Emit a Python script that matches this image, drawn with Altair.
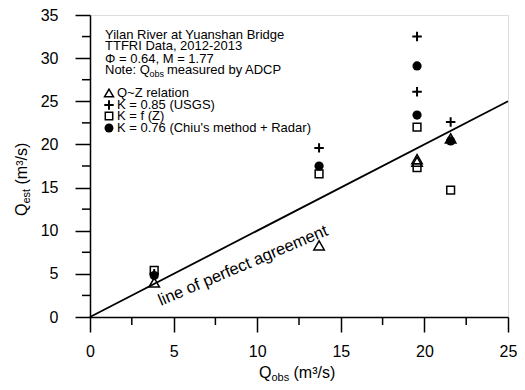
import altair as alt
import pandas as pd

# ---- data ----
q_obs = [3.84, 13.7, 19.56, 19.56, 21.57]
q_qz = [4.0, 8.3, 18.3, 18.0, 20.7]          # Q~Z relation (triangles)
q_usgs = [5.0, 19.6, 32.5, 26.1, 22.6]       # K = 0.85 (USGS) (crosses)
q_fz = [5.4, 16.6, 22.0, 17.3, 14.7]         # K = f(Z) (squares)
q_chiu = [4.8, 17.5, 29.1, 23.4, 20.4]       # K = 0.76 (Chiu + Radar) (dots)

line_x = [0, 25]
line_y = [0, 25]

major_x = [0, 5, 10, 15, 20, 25]
minor_x = [2.5, 7.5, 12.5, 17.5, 22.5]
major_y = [0, 5, 10, 15, 20, 25, 30, 35]
minor_y = [2.5, 7.5, 12.5, 17.5, 22.5, 27.5, 32.5]

header_lines = ["Yilan River at Yuanshan Bridge", "TTFRI Data, 2012-2013", "Φ = 0.64, M = 1.77"]
legend_labels = ["Q~Z relation", "K = 0.85 (USGS)", "K = f (Z)", "K = 0.76 (Chiu's method + Radar)"]
line_label = "line of perfect agreement"

FONT = "Liberation Sans"
W, H = 418, 302
CROSS = "M-1,0H1M0,-1V1"

common_axis = dict(
    grid=False, title=None, domainColor="black", domainWidth=1.5,
    tickColor="black", tickWidth=1.5, tickSize=15,
    labelFont=FONT, labelFontSize=16, labelColor="black",
    labelFlush=False, labelOverlap=False,
)
xaxis = alt.Axis(values=major_x, labelPadding=11, **common_axis)
yaxis = alt.Axis(values=major_y, labelPadding=17, **common_axis)

X = lambda f: alt.X(f"{f}:Q", scale=alt.Scale(domain=[0, 25], nice=False, zero=True), axis=xaxis)
Y = lambda f: alt.Y(f"{f}:Q", scale=alt.Scale(domain=[0, 35], nice=False, zero=True), axis=yaxis)

# minor ticks
mx = alt.Chart(pd.DataFrame({"v": minor_x})).mark_rule(color="black", strokeWidth=1.5).encode(
    x=X("v"), y=alt.value(H), y2=alt.value(H + 8))
my = alt.Chart(pd.DataFrame({"v": minor_y})).mark_rule(color="black", strokeWidth=1.5).encode(
    y=Y("v"), x=alt.value(-8), x2=alt.value(0))

line_df = pd.DataFrame({"x": line_x, "y": line_y})
line = alt.Chart(line_df).mark_line(color="black", strokeWidth=1.8).encode(x=X("x"), y=Y("y"))

lbl_df = pd.DataFrame({"x": [9.15], "y": [5.95], "t": [line_label]})
line_text = alt.Chart(lbl_df).mark_text(
    font=FONT, fontSize=16.5, angle=337, align="center", baseline="middle", color="black"
).encode(x=X("x"), y=Y("y"), text="t:N")


def series(vals, shape, filled, size, sw=1.5):
    df = pd.DataFrame({"x": q_obs, "y": vals})
    return alt.Chart(df).mark_point(
        shape=shape, filled=filled, size=size, color="black",
        strokeWidth=sw, opacity=1, fillOpacity=1
    ).encode(x=X("x"), y=Y("y"))


tri = series(q_qz, "triangle-up", False, 110)
sq = series(q_fz, "square", False, 60)
cr = series(q_usgs, CROSS, False, 90, 2)
ci = series(q_chiu, "circle", True, 85)


def label(text, px, py, size=13, angle=0, baseline="alphabetic"):
    df = pd.DataFrame({"t": [text]})
    return alt.Chart(df).mark_text(
        font=FONT, fontSize=size, align="left", baseline=baseline,
        color="black", angle=angle
    ).encode(x=alt.value(px), y=alt.value(py), text="t:N")


texts = []
header_y = [20, 31, 44]
for t, yy in zip(header_lines, header_y):
    texts.append(label(t, 15, yy, 13, 0, "middle"))
# Note line with subscript
texts.append(label("Note: Q", 15, 55, 13, 0, "middle"))
texts.append(label("obs", 59.5, 58.5, 9, 0, "middle"))
texts.append(label("measured by ADCP", 77, 55, 13, 0, "middle"))

legend_y = [78, 90, 101, 113]
legend_marks = [("triangle-up", False, 80, 1.5), (CROSS, False, 90, 2), ("square", False, 55, 1.5), ("circle", True, 80, 1.5)]
for (shape, filled, size, sw), lab, yy in zip(legend_marks, legend_labels, legend_y):
    df = pd.DataFrame({"t": [lab]})
    texts.append(alt.Chart(df).mark_point(
        shape=shape, filled=filled, size=size, color="black", strokeWidth=sw, opacity=1
    ).encode(x=alt.value(19), y=alt.value(yy)))
    texts.append(label(lab, 27, yy, 13, 0, "middle"))

# x axis title: Q_obs (m³/s)
texts.append(label("Q", 169, 363, 16))
texts.append(label("obs", 181.5, 366, 11))
texts.append(label("(m³/s)", 203.5, 363, 16))
# y axis title: Q_est (m³/s)
texts.append(label("Q", -63, 201, 16, 270))
texts.append(label("est", -60, 188.6, 11, 270))
texts.append(label("(m³/s)", -63, 169.5, 16, 270))

chart = alt.layer(mx, my, line, line_text, tri, sq, cr, ci, *texts).properties(
    width=W, height=H,
    autosize=alt.AutoSizeParams(type="none"),
    padding={"left": 82, "top": 7, "right": 9, "bottom": 65},
).configure_view(stroke="black", strokeWidth=1.5).configure(background="white")

chart.save("out.html", embed_options={"renderer": "svg", "actions": False})
